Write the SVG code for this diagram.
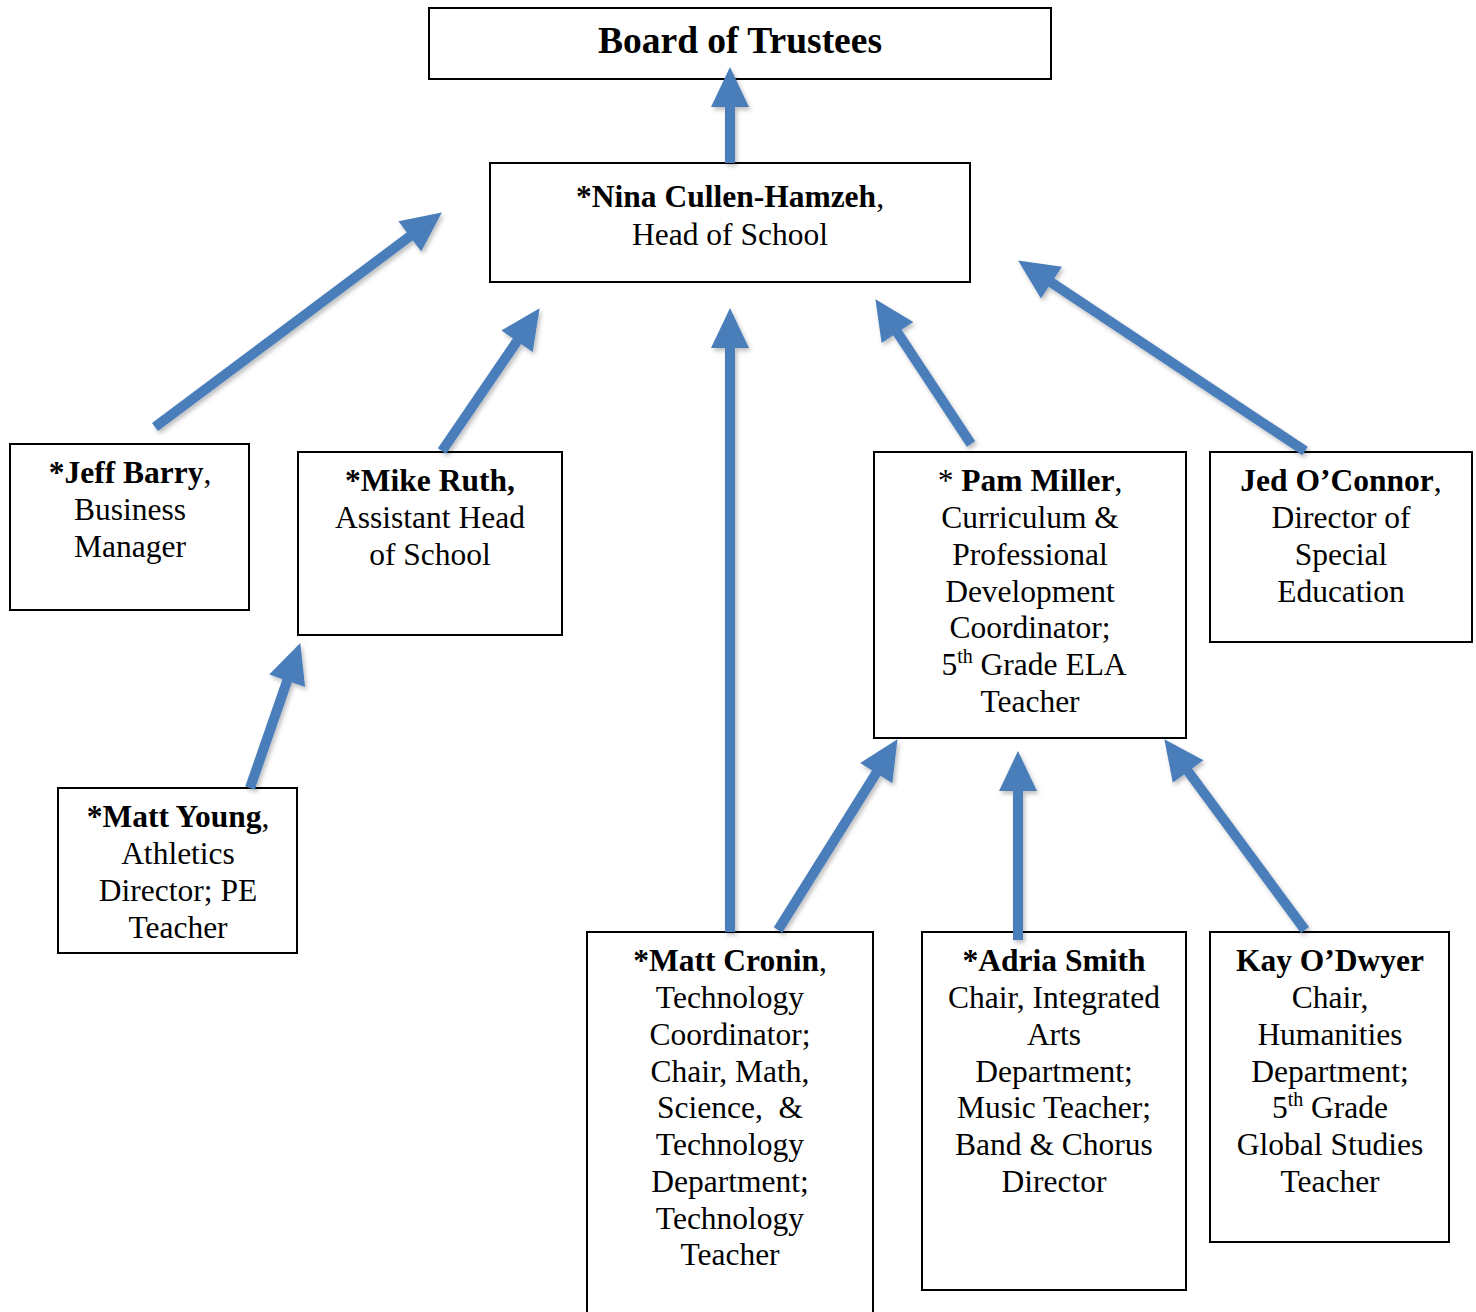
<svg xmlns="http://www.w3.org/2000/svg" width="1476" height="1312" viewBox="0 0 1476 1312">
<style>
  .box { fill: #ffffff; stroke: #000000; stroke-width: 2; }
  text { font-family: "Liberation Serif", "Times New Roman", serif; font-size: 31.5px; fill: #000000; text-anchor: middle; }
  .b { font-weight: bold; }
  .title { font-size: 37.5px; font-weight: bold; }
  .arr { stroke: #4a7ebb; stroke-width: 10; fill: none; marker-end: url(#head); }
</style>
<defs>
  <marker id="head" markerUnits="userSpaceOnUse" markerWidth="40" markerHeight="40" refX="1" refY="0" orient="auto" overflow="visible">
    <path d="M0,-19 L40,0 L0,19 z" fill="#4a7ebb"/>
  </marker>
  <filter id="sh" filterUnits="userSpaceOnUse" x="0" y="0" width="1476" height="1312">
    <feDropShadow dx="2" dy="3" stdDeviation="2" flood-color="#000" flood-opacity="0.25"/>
  </filter>
</defs>

<g id="board">
  <rect class="box" x="429" y="8" width="622" height="71"/>
  <text class="title" x="740" y="53">Board of Trustees</text>
</g>

<g id="nina">
  <rect class="box" x="490" y="163" width="480" height="119"/>
  <text x="730" y="207"><tspan class="b">*Nina Cullen-Hamzeh</tspan>,</text>
  <text x="730" y="245">Head of School</text>
</g>

<g id="jeff">
  <rect class="box" x="10" y="444" width="239" height="166"/>
  <text x="130" y="483"><tspan class="b">*Jeff Barry</tspan>,</text>
  <text x="130" y="520">Business</text>
  <text x="130" y="557">Manager</text>
</g>

<g id="mike">
  <rect class="box" x="298" y="452" width="264" height="183"/>
  <text x="430" y="491" class="b">*Mike Ruth,</text>
  <text x="430" y="528">Assistant Head</text>
  <text x="430" y="565">of School</text>
</g>

<g id="pam">
  <rect class="box" x="874" y="452" width="312" height="286"/>
  <text x="1030" y="491">* <tspan class="b">Pam Miller</tspan>,</text>
  <text x="1030" y="528">Curriculum &amp;</text>
  <text x="1030" y="565">Professional</text>
  <text x="1030" y="602">Development</text>
  <text x="1030" y="638">Coordinator;</text>
  <text x="1034" y="675">5<tspan font-size="20" dy="-12">th</tspan><tspan dy="12"> Grade ELA</tspan></text>
  <text x="1030" y="712">Teacher</text>
</g>

<g id="jed">
  <rect class="box" x="1210" y="452" width="262" height="190"/>
  <text x="1341" y="491"><tspan class="b">Jed O’Connor</tspan>,</text>
  <text x="1341" y="528">Director of</text>
  <text x="1341" y="565">Special</text>
  <text x="1341" y="602">Education</text>
</g>

<g id="mattyoung">
  <rect class="box" x="58" y="788" width="239" height="165"/>
  <text x="178" y="827"><tspan class="b">*Matt Young</tspan>,</text>
  <text x="178" y="864">Athletics</text>
  <text x="178" y="901">Director; PE</text>
  <text x="178" y="938">Teacher</text>
</g>

<g id="mattcronin">
  <rect class="box" x="587" y="932" width="286" height="390"/>
  <text x="730" y="971"><tspan class="b">*Matt Cronin</tspan>,</text>
  <text x="730" y="1008">Technology</text>
  <text x="730" y="1045">Coordinator;</text>
  <text x="730" y="1082">Chair, Math,</text>
  <text x="730" y="1118">Science,&#160; &amp;</text>
  <text x="730" y="1155">Technology</text>
  <text x="730" y="1192">Department;</text>
  <text x="730" y="1229">Technology</text>
  <text x="730" y="1265">Teacher</text>
</g>

<g id="adria">
  <rect class="box" x="922" y="932" width="264" height="358"/>
  <text x="1054" y="971" class="b">*Adria Smith</text>
  <text x="1054" y="1008">Chair, Integrated</text>
  <text x="1054" y="1045">Arts</text>
  <text x="1054" y="1082">Department;</text>
  <text x="1054" y="1118">Music Teacher;</text>
  <text x="1054" y="1155">Band &amp; Chorus</text>
  <text x="1054" y="1192">Director</text>
</g>

<g id="kay">
  <rect class="box" x="1210" y="932" width="239" height="310"/>
  <text x="1330" y="971" class="b">Kay O’Dwyer</text>
  <text x="1330" y="1008">Chair,</text>
  <text x="1330" y="1045">Humanities</text>
  <text x="1330" y="1082">Department;</text>
  <text x="1330" y="1118">5<tspan font-size="20" dy="-12">th</tspan><tspan dy="12"> Grade</tspan></text>
  <text x="1330" y="1155">Global Studies</text>
  <text x="1330" y="1192">Teacher</text>
</g>

<g id="connectors" filter="url(#sh)">
  <line class="arr" x1="730" y1="163" x2="730" y2="106"/>
  <line class="arr" x1="155" y1="427" x2="410.6" y2="235.8"/>
  <line class="arr" x1="442" y1="451" x2="517.6" y2="340.4"/>
  <line class="arr" x1="730" y1="932" x2="730" y2="347"/>
  <line class="arr" x1="971" y1="444" x2="896.9" y2="331.7"/>
  <line class="arr" x1="1305" y1="451" x2="1050.6" y2="282"/>
  <line class="arr" x1="250" y1="788" x2="287.5" y2="679.9"/>
  <line class="arr" x1="778" y1="930" x2="876.8" y2="772.2"/>
  <line class="arr" x1="1018" y1="940" x2="1018" y2="790"/>
  <line class="arr" x1="1305" y1="930" x2="1187.5" y2="770.6"/>
</g>
</svg>
